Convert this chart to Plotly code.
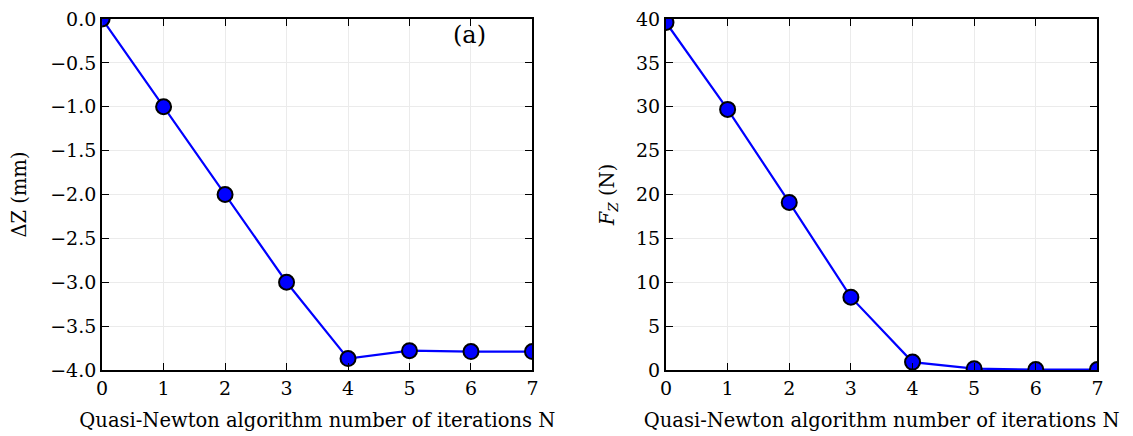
import plotly.graph_objects as go
from plotly.subplots import make_subplots

iterations = [0, 1, 2, 3, 4, 5, 6, 7]
delta_z = [0.0, -1.0, -2.0, -3.0, -3.87, -3.78, -3.79, -3.79]
force_z = [39.6, 29.7, 19.1, 8.3, 0.9, 0.15, 0.05, 0.05]

x_title = "Quasi-Newton algorithm number of iterations N"
y_title_left = "ΔZ (mm)"
y_title_right = "<i>F</i><sub><i>Z</i></sub> (N)"

FONT = "DejaVu Serif"

fig = make_subplots(rows=1, cols=2)

marker = dict(size=15, color="#0000ff", line=dict(color="black", width=2))
line = dict(color="#0000ff", width=2.2)

fig.add_trace(go.Scatter(x=iterations, y=delta_z, mode="lines+markers",
                         marker=marker, line=line, showlegend=False), row=1, col=1)
fig.add_trace(go.Scatter(x=iterations, y=force_z, mode="lines+markers",
                         marker=marker, line=line, showlegend=False), row=1, col=2)

axis_common = dict(
    showline=True, linecolor="black", linewidth=2, mirror="ticks",
    ticks="inside", ticklen=7, tickwidth=1, tickcolor="black",
    showgrid=True, gridcolor="#ebebeb", gridwidth=1, zeroline=False,
    tickfont=dict(family=FONT, size=19, color="black"),
    ticklabeloverflow="allow",
)

fig.update_xaxes(**axis_common, range=[0, 7], dtick=1,
                 title=dict(text=x_title, font=dict(family=FONT, size=19.5, color="black"), standoff=16))
fig.update_yaxes(**axis_common)

fig.update_xaxes(domain=[0.0786, 0.4625], row=1, col=1)
fig.update_xaxes(domain=[0.5816, 0.9665], row=1, col=2)
fig.update_yaxes(range=[-4.0, 0.0], dtick=0.5, tickformat=".1f",
                 title=dict(text=y_title_left, font=dict(family=FONT, size=19.5, color="black"), standoff=20),
                 row=1, col=1)
fig.update_yaxes(range=[0, 40], dtick=5,
                 title=dict(text=y_title_right, font=dict(family=FONT, size=19.5, color="black"), standoff=16),
                 row=1, col=2)

fig.add_annotation(text="(a)", x=5.97, y=1.0, xref="x", yref="y domain", yanchor="top",
                   showarrow=False, font=dict(family=FONT, size=24, color="black"))

fig.update_layout(
    width=1133, height=436,
    margin=dict(l=0, r=0, t=9, b=74),
    plot_bgcolor="white", paper_bgcolor="white",
)

fig.write_html("out.html")
